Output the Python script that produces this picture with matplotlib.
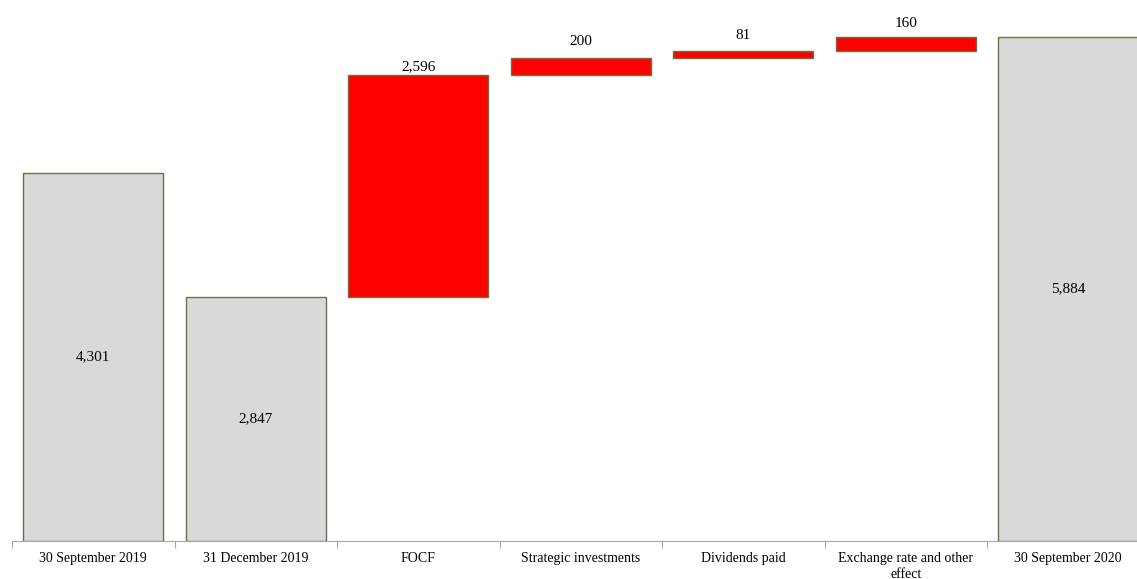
import numpy as np
import matplotlib.pyplot as plt

plt.rcParams['font.family'] = ['Liberation Serif', 'DejaVu Serif']

# data
categories = ['30 September 2019', '31 December 2019', 'FOCF', 'Strategic investments',
              'Dividends paid', 'Exchange rate and other\neffect', '30 September 2020']
values = [4301, 2847, 2596, 200, 81, 160, 5884]
is_total = [True, True, False, False, False, False, True]

fig = plt.figure(figsize=(11.37, 5.79), dpi=100)
ax = fig.add_axes([12 / 1137, 38 / 579, 1137.5 / 1137, 541 / 579])

x = np.arange(len(categories))
bottoms = []
running = 0
for v, tot in zip(values, is_total):
    if tot:
        bottoms.append(0)
        running = v
    else:
        bottoms.append(running)
        running += v

colors = ['#d9d9d9' if t else '#ff0000' for t in is_total]
ax.bar(x, values, bottom=bottoms, width=0.86, color=colors,
       edgecolor='#6f6f45', linewidth=1.0)

# gap between bar top and label (points)
label_pad = [0, 0, 1.5, 7, 6.5, 5, 0]
for xi, v, b, tot, pad in zip(x, values, bottoms, is_total, label_pad):
    if tot:
        ax.text(xi, b + v / 2, f'{v:,}', ha='center', va='center', fontsize=11)
    else:
        ax.annotate(f'{v:,}', (xi, b + v), xytext=(0, pad), textcoords='offset points',
                    ha='center', va='bottom', fontsize=11)

ax.set_xlim(-0.5, len(categories) - 0.5)
ax.set_ylim(0, 5884 * 541 / (541 - 37))

for s in ['top', 'right', 'left']:
    ax.spines[s].set_visible(False)
ax.spines['bottom'].set_color('#a6a6a6')
ax.set_yticks([])

ax.set_xticks(np.arange(len(categories) + 1) - 0.5, minor=False)
ax.set_xticklabels([])
ax.tick_params(axis='x', which='major', length=5, color='#a6a6a6', direction='out')
ax.set_xticks(x, minor=True)
ax.set_xticklabels(categories, minor=True, fontsize=10)
ax.tick_params(axis='x', which='minor', length=0, pad=8)
for lbl in ax.get_xticklabels(minor=True):
    lbl.set_linespacing(1.25)
    lbl.set_va('top')

fig.savefig('out.png', dpi=100)
